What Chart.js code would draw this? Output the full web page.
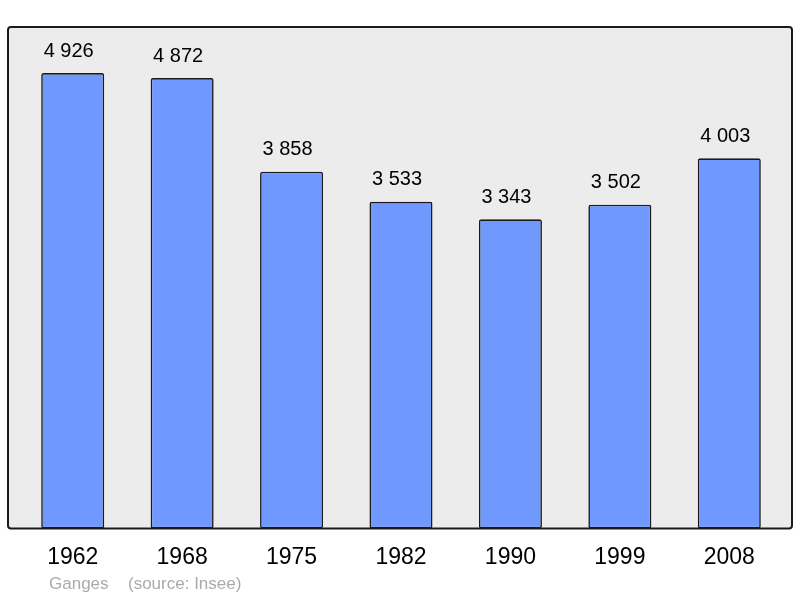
<!DOCTYPE html>
<html>
<head>
<meta charset="utf-8">
<script src="https://cdn.jsdelivr.net/npm/chart.js@4"></script>
<style>
  html, body { margin: 0; padding: 0; background: #fff; }
  #wrap { width: 800px; height: 598px; }
</style>
</head>
<body>
<div id="wrap"><canvas id="popChart" width="800" height="598"></canvas></div>
<script>
// DATA
const years = ['1962', '1968', '1975', '1982', '1990', '1999', '2008'];
const population = [4926, 4872, 3858, 3533, 3343, 3502, 4003];
const commune = 'Ganges';
const source = '(source: Insee)';

const fmt = v => String(v).replace(/\B(?=(\d{3})+(?!\d))/g, ' ');

// grey box behind bars
const frame = {
  id: 'frame',
  beforeDraw(chart) {
    const { ctx, chartArea: a } = chart;
    const x = a.left - 10, y = a.top, w = a.right - a.left + 18, h = a.bottom - a.top;
    ctx.save();
    ctx.fillStyle = '#ececec';
    ctx.beginPath();
    ctx.roundRect(x, y, w, h, 3);
    ctx.fill();
    ctx.restore();
  },
  afterDatasetsDraw(chart) {
    const { ctx, chartArea: a } = chart;
    const x = a.left - 10, y = a.top, w = a.right - a.left + 18, h = a.bottom - a.top;
    ctx.save();
    ctx.strokeStyle = '#1a1a1a';
    ctx.lineWidth = 2;
    ctx.beginPath();
    ctx.roundRect(x, y, w, h, 3);
    ctx.stroke();

    // value labels
    ctx.fillStyle = '#000';
    ctx.font = '20px "Liberation Sans", Arial, sans-serif';
    ctx.textAlign = 'center';
    ctx.textBaseline = 'middle';
    chart.getDatasetMeta(0).data.forEach((bar, i) => {
      ctx.fillText(fmt(population[i]), bar.x - 4, bar.y - 22);
    });

    // footer
    ctx.fillStyle = '#aaaaaa';
    ctx.font = '17px "Liberation Sans", Arial, sans-serif';
    ctx.textAlign = 'left';
    ctx.fillText(commune, 49, 584);
    ctx.fillText(source, 128, 584);
    ctx.restore();
  }
};

new Chart(document.getElementById('popChart').getContext('2d'), {
  type: 'bar',
  data: {
    labels: years,
    datasets: [{
      data: population,
      backgroundColor: '#7099ff',
      borderColor: '#1a1a1a',
      borderWidth: 1.6,
      borderSkipped: false,
      borderRadius: 2,
      barPercentage: 0.576,
      categoryPercentage: 1
    }]
  },
  options: {
    responsive: false,
    animation: false,
    layout: { padding: { left: 18, right: 16, top: 27, bottom: 12 } },
    plugins: { legend: { display: false }, tooltip: { enabled: false } },
    scales: {
      y: { display: false, min: 0, max: 5424 },
      x: {
        grid: { display: false, drawTicks: false },
        border: { display: false },
        ticks: { color: '#000', padding: 15, font: { family: '"Liberation Sans", Arial, sans-serif', size: 23 } }
      }
    }
  },
  plugins: [frame]
});
</script>
</body>
</html>
